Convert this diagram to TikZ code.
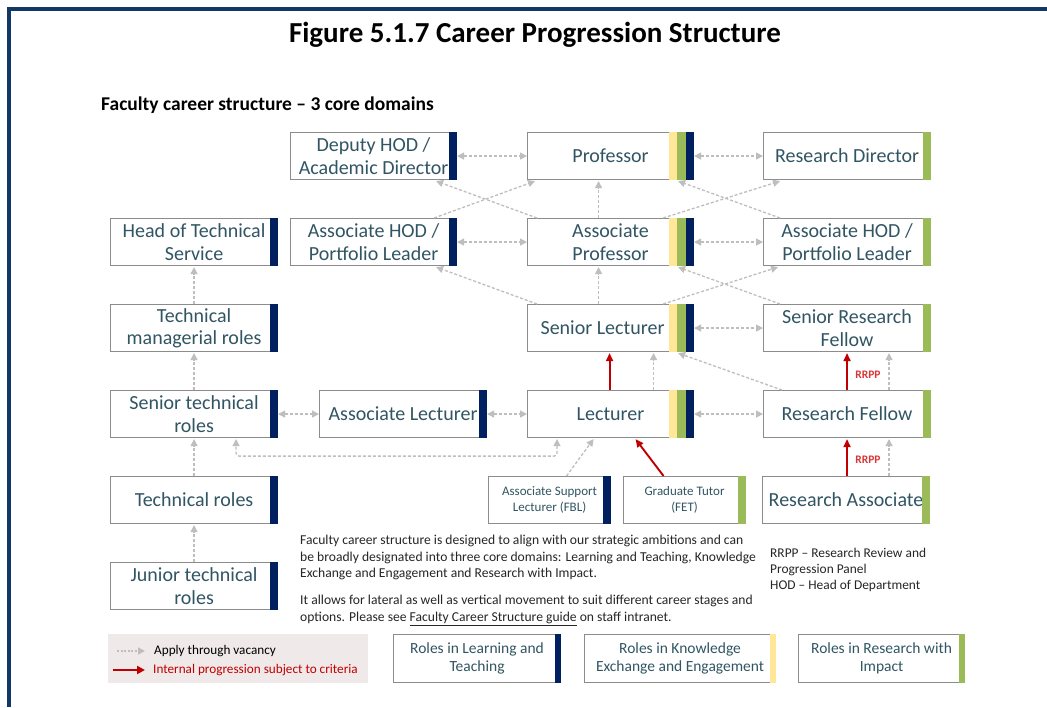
\documentclass[tikz,border=0pt]{standalone}
\usepackage{fontspec}
\setmainfont{Carlito}
\usetikzlibrary{arrows.meta,calc}
\definecolor{navyc}{RGB}{0,32,96}
\definecolor{greenc}{RGB}{155,187,89}
\definecolor{yellowc}{RGB}{255,230,153}
\definecolor{redc}{RGB}{192,0,0}
\definecolor{rrppc}{RGB}{215,55,55}
\definecolor{gline}{RGB}{190,190,190}
\definecolor{boxline}{RGB}{140,140,140}
\definecolor{txt}{RGB}{49,85,99}
\definecolor{framec}{RGB}{18,57,102}
\definecolor{legbg}{RGB}{239,233,233}
\newcommand\mkNavyBar[2][8.5]{\fill[navyc] ($(#2.north east)+(-#1,0)$) rectangle (#2.south east);}
\newcommand\mkGreenBar[2][8.5]{\fill[greenc] ($(#2.north east)+(-#1,0)$) rectangle (#2.south east);}
\newcommand\mkYellowBar[2][6]{\fill[yellowc] ($(#2.north east)+(-#1,0)$) rectangle (#2.south east);}
\newcommand\mkTriBar[1]{%
  \fill[yellowc] ($(#1.north east)+(-25,0)$) rectangle ($(#1.south east)+(-17,0)$);
  \fill[greenc] ($(#1.north east)+(-17,0)$) rectangle ($(#1.south east)+(-8,0)$);
  \fill[navyc] ($(#1.north east)+(-8,0)$) rectangle (#1.south east);}
\begin{document}
\begin{tikzpicture}[x=1pt,y=-1pt,
  rbox/.style={draw=boxline, line width=1.1pt, fill=white, anchor=north west, inner sep=0pt,
    font=\fontsize{20}{22.5}\selectfont, text=txt, align=center, minimum height=47pt, minimum width=167pt},
  sbox/.style={rbox, font=\fontsize{13}{16}\selectfont, minimum width=122pt},
  lbox/.style={rbox, font=\fontsize{15.5}{18}\selectfont, minimum height=48pt},
  gconn/.style={draw=gline, line width=1.3pt, dash pattern=on 3pt off 2pt, -{Triangle[length=7pt,width=7pt]}},
  gboth/.style={gconn, {Triangle[length=7pt,width=7pt]}-{Triangle[length=7pt,width=7pt]}},
  rconn/.style={draw=redc, line width=1.9pt, -{Triangle[length=8pt,width=7pt]}},
]
\useasboundingbox (0,0) rectangle (1047,707);
\fill[white] (0,0) rectangle (1047,707);
% frame
\draw[framec, line width=4.5pt] (8.75,707) -- (8.75,9) -- (1047,9);

% titles
\node[font=\fontsize{29}{32}\selectfont\bfseries, text=black] (title) at (535,35) {Figure 5.1.7 Career Progression Structure};
\node[font=\fontsize{19.5}{22}\selectfont\bfseries, text=black, anchor=west, inner sep=0pt] (sub) at (101,105) {Faculty career structure -- 3 core domains};

% row 1
\node[rbox, minimum width=166pt] (dep) at (290,132) {Deputy HOD /\\Academic Director};
\node[rbox, minimum width=166pt] (prof) at (527,132) {Professor};
\node[rbox] (rdir) at (763,132) {Research Director};
% row 2
\node[rbox] (hts) at (110,218) {Head of Technical\\Service};
\node[rbox, minimum width=166pt] (ahl) at (290,218) {Associate HOD /\\Portfolio Leader};
\node[rbox, minimum width=166pt] (ap) at (527,218) {Associate\\Professor};
\node[rbox] (ahr) at (763,218) {Associate HOD /\\Portfolio Leader};
% row 3
\node[rbox] (tmr) at (110,304) {Technical\\managerial roles};
\node[rbox, minimum width=166pt] (sl) at (527,304) {Senior Lecturer\hspace{16pt}};
\node[rbox] (srf) at (763,304) {Senior Research\\Fellow};
% row 4
\node[rbox] (str) at (110,390) {Senior technical\\roles};
\node[rbox] (al) at (319,390) {Associate Lecturer};
\node[rbox, minimum width=166pt] (lec) at (527,390) {Lecturer};
\node[rbox] (rf) at (763,390) {Research Fellow};
% row 5
\node[rbox] (tr) at (110,476) {Technical roles};
\node[sbox] (asl) at (488,476) {Associate Support\\Lecturer (FBL)};
\node[sbox] (gt) at (623,476) {Graduate Tutor\\(FET)};
\node[rbox] (ra) at (762,476) {Research Associate};
% row 6
\node[rbox] (jtr) at (110,562) {Junior technical\\roles};

% bars
\mkNavyBar{dep}\mkTriBar{prof}\mkGreenBar{rdir}
\mkNavyBar{hts}\mkNavyBar{ahl}\mkTriBar{ap}\mkGreenBar{ahr}
\mkNavyBar{tmr}\mkTriBar{sl}\mkGreenBar{srf}
\mkNavyBar{str}\mkNavyBar{al}\mkTriBar{lec}\mkGreenBar{rf}
\mkNavyBar{tr}\mkNavyBar{asl}\mkGreenBar{gt}\mkGreenBar{ra}
\mkNavyBar{jtr}

% horizontal two-way connectors
\draw[gboth] (dep.east) -- (prof.west);
\draw[gboth] (prof.east) -- (rdir.west);
\draw[gboth] (ahl.east) -- (ap.west);
\draw[gboth] (ap.east) -- (ahr.west);
\draw[gboth] (sl.east) -- (srf.west);
\draw[gboth] (str.east) -- (al.west);
\draw[gboth] (al.east) -- (lec.west);
\draw[gboth] (lec.east) -- (rf.west);

% diagonals and verticals
\draw[gconn] ($(ap.north west)+(10,0)$) -- ($(dep.south east)+(-21,1)$);
\draw[gconn] ($(ahl.north east)+(-23,0)$) -- ($(prof.south west)+(8,1)$);
\draw[gconn] ($(ap.north)+(-12,0)$) -- ($(prof.south)+(-12,1)$);
\draw[gconn] ($(ap.north east)+(-31,0)$) -- ($(rdir.south west)+(17,1)$);
\draw[gconn] ($(ahr.north west)+(17,0)$) -- ($(prof.south east)+(-16,1)$);
\draw[gconn] ($(sl.north west)+(10,0)$) -- ($(ahl.south east)+(-21,1)$);
\draw[gconn] ($(sl.north)+(-12,0)$) -- ($(ap.south)+(-12,1)$);
\draw[gconn] ($(sl.north east)+(-31,0)$) -- ($(ahr.south west)+(15,1)$);
\draw[gconn] ($(srf.north west)+(17,0)$) -- ($(ap.south east)+(-16,1)$);
\draw[gconn] ($(rf.north west)+(19,0)$) -- ($(sl.south east)+(-16,1)$);
\draw[gconn] ($(lec.north)+(43,0)$) -- ($(sl.south)+(43,1)$);
\draw[rconn] ($(lec.north)+(-1,0)$) -- ($(sl.south)+(-1,1)$);
\draw[rconn] (rf.north) -- ($(srf.south)+(0,1)$);
\draw[gconn] ($(rf.north)+(42,0)$) -- ($(srf.south)+(42,1)$);
\draw[rconn] (rf.south |- ra.north) -- ($(rf.south)+(0,1)$);
\draw[gconn] ($(ra.north)+(43,0)$) -- ($(rf.south)+(42,1)$);
\node[font=\fontsize{11.5}{13}\selectfont\bfseries, text=rrppc] (rr1) at (868,375) {RRPP};
\node[font=\fontsize{11.5}{13}\selectfont\bfseries, text=rrppc] (rr2) at (868,460) {RRPP};
\draw[rconn] ($(gt.north)+(-21,0)$) -- ($(lec.south)+(25,1)$);
\draw[gconn] ($(asl.north)+(17,0)$) -- ($(lec.south)+(-17,1)$);
\draw[gboth, rounded corners=3pt] ($(lec.south west)+(30,1)$) |- ($(str.south)+(42,18)$) -- ($(str.south)+(42,1)$);

% technical chain
\draw[gconn] (tmr.north) -- ($(hts.south)+(0,1)$);
\draw[gconn] (str.north) -- ($(tmr.south)+(0,1)$);
\draw[gconn] (tr.north) -- ($(str.south)+(0,1)$);
\draw[gconn] (jtr.north) -- ($(tr.south)+(0,1)$);

% body text
\node[anchor=north west, inner sep=0pt, align=left, text=black!85, font=\fontsize{13.6}{16.5}\selectfont] (p1) at (300,535)
  {Faculty career structure is designed to align with our strategic ambitions and can\\be broadly designated into three core domains: Learning and Teaching, Knowledge\\Exchange and Engagement and Research with Impact.};
\node[anchor=north west, inner sep=0pt, align=left, text=black!85, font=\fontsize{13.6}{16.5}\selectfont] (p2) at (300,595)
  {It allows for lateral as well as vertical movement to suit different career stages and\\options. Please see \underline{Faculty Career Structure guide} on staff intranet.};
\node[anchor=north west, inner sep=0pt, align=left, text=black!85, font=\fontsize{13.4}{16}\selectfont] (abbr) at (770,548)
  {RRPP -- Research Review and\\Progression Panel\\HOD -- Head of Department};

% legend
\node[fill=legbg, anchor=north west, minimum width=260pt, minimum height=49pt, inner sep=0pt] (leg) at (108,634) {};
\coordinate (lga) at (117,651);
\coordinate (lgb) at (145,651);
\coordinate (lra) at (113,670);
\coordinate (lrb) at (145,670);
\draw[gconn, line width=1.6pt, dash pattern=on 2pt off 1.5pt] (lga) -- (lgb);
\draw[redc, line width=2.4pt, -{Triangle[length=8pt,width=8pt]}] (lra) -- (lrb);
\node[anchor=west, inner sep=0pt, font=\fontsize{13.2}{15}\selectfont, text=black] (lgt) at (154,651) {Apply through vacancy};
\node[anchor=west, inner sep=0pt, font=\fontsize{13.2}{15}\selectfont, text=redc] (lrt) at (153,670) {Internal progression subject to criteria};

\node[lbox] (lt) at (393,634) {Roles in Learning and\\Teaching};
\node[lbox, minimum width=191pt] (lk) at (584,634) {Roles in Knowledge\\Exchange and Engagement};
\node[lbox, minimum width=166pt] (lr) at (798,634) {Roles in Research with\\Impact};
\mkNavyBar[6]{lt}\mkYellowBar[6]{lk}\mkGreenBar[6]{lr}
\end{tikzpicture}
\end{document}
